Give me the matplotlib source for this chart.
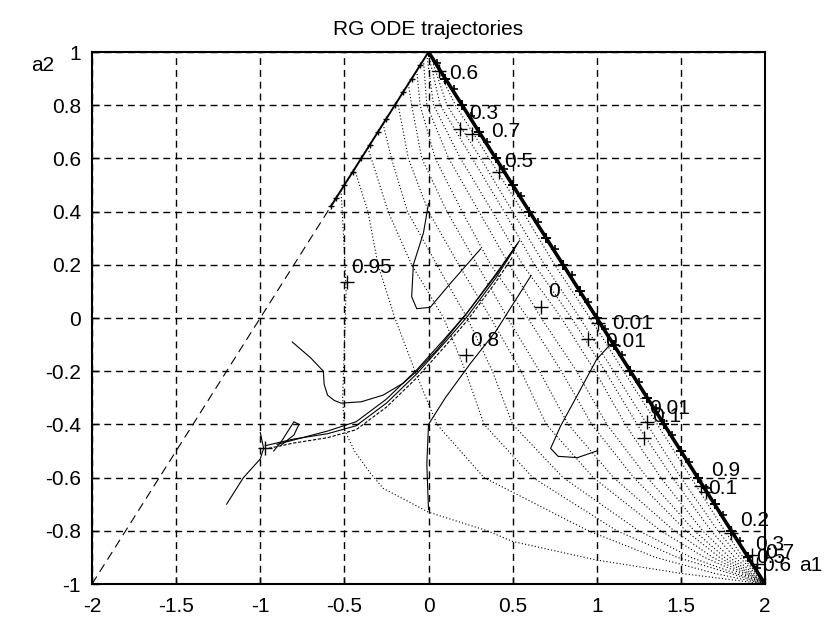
import matplotlib
matplotlib.use("Agg")
import matplotlib.pyplot as plt

plt.rcParams['font.family'] = ['Liberation Sans', 'DejaVu Sans']

# tick labels
x_ticks = [-2, -1.5, -1, -0.5, 0, 0.5, 1, 1.5, 2]
x_tick_labels = ['-2', '-1.5', '-1', '-0.5', '0', '0.5', '1', '1.5', '2']
y_ticks = [-1, -0.8, -0.6, -0.4, -0.2, 0, 0.2, 0.4, 0.6, 0.8, 1]
y_tick_labels = ['-1', '-0.8', '-0.6', '-0.4', '-0.2', '0', '0.2', '0.4', '0.6', '0.8', '1']

# triangle edges
left_dashed = [(-2.0, -1.0), (-0.58, 0.42)]
left_upper = [(-0.58, 0.42), (-0.55, 0.45), (-0.5, 0.5), (-0.45, 0.55), (-0.4, 0.6),
              (-0.35, 0.65), (-0.3, 0.7), (-0.25, 0.75), (-0.2, 0.8), (-0.15, 0.85),
              (-0.1, 0.9), (-0.05, 0.95), (0.0, 1.0)]
right_edge = [(0.0, 1.0), (0.1, 0.9), (0.2, 0.8), (0.3, 0.7), (0.4, 0.6), (0.5, 0.5),
              (0.6, 0.4), (0.7, 0.3), (0.8, 0.2), (0.9, 0.1), (1.0, 0.0), (1.1, -0.1),
              (1.2, -0.2), (1.3, -0.3), (1.4, -0.4), (1.5, -0.5), (1.6, -0.6), (1.7, -0.7),
              (1.8, -0.8), (1.9, -0.9), (2.0, -1.0)]
right_edge_b = [(0.05, 0.96), (0.15, 0.86), (0.25, 0.76), (0.35, 0.66), (0.45, 0.56),
                (0.55, 0.46), (0.65, 0.36), (0.75, 0.26), (0.85, 0.16), (0.95, 0.06),
                (1.05, -0.04), (1.15, -0.14), (1.25, -0.24), (1.35, -0.34), (1.45, -0.44),
                (1.55, -0.54), (1.65, -0.64), (1.75, -0.74), (1.85, -0.84), (1.95, -0.94)]

# dotted trajectories running into (2,-1)
fan_01 = [(-0.52, 0.48), (-0.50, 0.25), (-0.49, 0.1), (-0.50, -0.1), (-0.51, -0.3), (-0.50, -0.42),
          (-0.44, -0.50), (-0.35, -0.58), (-0.27, -0.64), (0.0, -0.73), (0.35, -0.8), (0.5, -0.84),
          (1.0, -0.91), (1.5, -0.96), (2.0, -1.0)]
fan_02 = [(-0.44, 0.56), (-0.36, 0.4), (-0.30, 0.2), (-0.20, 0.0), (-0.08, -0.2), (0.05, -0.4),
          (0.33, -0.6), (0.95, -0.8), (1.35, -0.9), (1.7, -0.96), (2.0, -1.0)]
fan_03 = [(-0.36, 0.64), (-0.34, 0.6), (-0.24, 0.4), (-0.1, 0.2), (0.09, 0.0), (0.22, -0.2),
          (0.33, -0.4), (0.62, -0.6), (1.12, -0.8), (1.48, -0.9), (2.0, -1.0)]
fan_04 = [(-0.27, 0.73), (-0.22, 0.6), (-0.125, 0.4), (0.05, 0.2), (0.23, 0.0), (0.38, -0.2),
          (0.5, -0.4), (0.8, -0.6), (1.25, -0.8), (1.56, -0.9), (2.0, -1.0)]
fan_05 = [(-0.19, 0.81), (-0.18, 0.8), (-0.12, 0.6), (0.0, 0.4), (0.18, 0.2), (0.37, 0.0),
          (0.55, -0.2), (0.7, -0.4), (0.98, -0.6), (1.38, -0.8), (1.64, -0.9), (2.0, -1.0)]
fan_06 = [(-0.12, 0.88), (-0.1, 0.8), (-0.04, 0.6), (0.11, 0.4), (0.29, 0.2), (0.47, 0.0),
          (0.66, -0.2), (0.83, -0.4), (1.1, -0.6), (1.46, -0.8), (1.69, -0.9), (2.0, -1.0)]
fan_07 = [(-0.07, 0.93), (-0.05, 0.8), (0.04, 0.6), (0.2, 0.4), (0.37, 0.2), (0.59, 0.0),
          (0.79, -0.2), (0.97, -0.4), (1.22, -0.6), (1.53, -0.8), (1.73, -0.9), (2.0, -1.0)]
fan_08 = [(-0.03, 0.97), (-0.01, 0.8), (0.12, 0.6), (0.3, 0.4), (0.48, 0.2), (0.67, 0.0),
          (0.88, -0.2), (1.06, -0.4), (1.3, -0.6), (1.58, -0.8), (1.76, -0.9), (2.0, -1.0)]
fan_09 = [(-0.01, 0.99), (0.03, 0.8), (0.19, 0.6), (0.38, 0.4), (0.56, 0.2), (0.79, 0.0),
          (0.99, -0.2), (1.17, -0.4), (1.38, -0.6), (1.63, -0.8), (1.79, -0.9), (2.0, -1.0)]
fan_10 = [(0.0, 0.99), (0.07, 0.8), (0.26, 0.6), (0.45, 0.4), (0.63, 0.2), (0.85, 0.0),
          (1.05, -0.2), (1.24, -0.4), (1.45, -0.6), (1.68, -0.8), (1.82, -0.9), (2.0, -1.0)]
fan_11 = [(0.01, 0.99), (0.11, 0.8), (0.31, 0.6), (0.5, 0.4), (0.69, 0.2), (0.9, 0.0),
          (1.1, -0.2), (1.3, -0.4), (1.5, -0.6), (1.72, -0.8), (1.85, -0.9), (2.0, -1.0)]
fan_12 = [(0.02, 0.98), (0.16, 0.8), (0.36, 0.6), (0.56, 0.4), (0.75, 0.2), (0.96, 0.0),
          (1.16, -0.2), (1.36, -0.4), (1.56, -0.6), (1.76, -0.8), (1.87, -0.9), (2.0, -1.0)]
fan_curves = [fan_01, fan_02, fan_03, fan_04, fan_05, fan_06,
              fan_07, fan_08, fan_09, fan_10, fan_11, fan_12]

# solid trajectories
arc_upper = [(-0.81, -0.09), (-0.7, -0.15), (-0.625, -0.2), (-0.62, -0.25), (-0.6, -0.29),
             (-0.56, -0.31), (-0.52, -0.32), (-0.4, -0.315), (-0.27, -0.29), (-0.15, -0.245),
             (-0.07, -0.2), (0.05, -0.12), (0.23, 0.02), (0.4, 0.16), (0.53, 0.28)]
bundle_a = [(-0.97, -0.48), (-0.8, -0.455), (-0.6, -0.435), (-0.43, -0.405), (-0.25, -0.32),
            (-0.07, -0.21), (0.1, -0.09), (0.23, 0.005), (0.4, 0.15), (0.52, 0.27)]
bundle_b = [(-0.9, -0.475), (-0.75, -0.45), (-0.6, -0.425), (-0.43, -0.39), (-0.25, -0.305),
            (-0.07, -0.195), (0.1, -0.075), (0.23, 0.02), (0.4, 0.165), (0.54, 0.29)]
bundle_c = [(-0.95, -0.49), (-0.8, -0.47), (-0.6, -0.45), (-0.43, -0.42), (-0.25, -0.335),
            (-0.07, -0.225), (0.1, -0.105), (0.23, -0.01), (0.4, 0.135), (0.5, 0.23)]
hook = [(-0.92, -0.5), (-0.87, -0.46), (-0.83, -0.42), (-0.8, -0.39), (-0.77, -0.4),
        (-0.8, -0.44), (-0.88, -0.48)]
lower_left = [(-1.2, -0.7), (-1.1, -0.6), (-1.0, -0.53), (-0.98, -0.49), (-1.0, -0.43)]
vertical_s = [(0.0, -0.72), (-0.01, -0.55), (0.0, -0.4), (0.1, -0.3), (0.25, -0.17),
              (0.4, -0.05), (0.52, 0.07), (0.61, 0.16)]
loop_mid = [(0.0, 0.43), (-0.03, 0.32), (-0.09, 0.2), (-0.1, 0.08), (-0.07, 0.035),
            (0.01, 0.04), (0.13, 0.13), (0.31, 0.26)]
loop_right = [(1.08, -0.1), (1.0, -0.155), (0.885, -0.29), (0.786, -0.405), (0.726, -0.49),
              (0.77, -0.52), (0.885, -0.525), (1.0, -0.5)]
solid_curves = [arc_upper, bundle_a, bundle_b, hook, lower_left, vertical_s, loop_mid, loop_right]

# start markers and their labels
plus_x = [0.06, 0.19, 0.26, 0.42, -0.484, 0.22, 0.667, 1.01, 0.95, 1.3, 1.28, 1.62, 1.65, 1.8, 1.92, 1.95, -0.97]
plus_y = [0.93, 0.71, 0.69, 0.55, 0.134, -0.14, 0.04, -0.02, -0.08, -0.39, -0.45, -0.63, -0.655, -0.81, -0.89, -0.925, -0.49]
label_text = ['0.6', '0.3', '0.7', '0.5', '0.95', '0.8', '0', '0.01', '0.01', '0.01', '0.1',
              '0.9', '0.1', '0.2', '0.3', '0.5', '0.6', '0.7']
label_x = [0.12, 0.24, 0.37, 0.45, -0.46, 0.25, 0.71, 1.09, 1.05, 1.31, 1.33,
           1.68, 1.66, 1.85, 1.94, 1.95, 1.98, 2.0]
label_y = [0.92, 0.77, 0.70, 0.59, 0.19, -0.085, 0.10, -0.02, -0.09, -0.34, -0.37,
           -0.575, -0.64, -0.76, -0.85, -0.9, -0.93, -0.88]

fig = plt.figure(figsize=(8.26, 6.22), dpi=100)
ax = fig.add_axes([92 / 826, 38 / 622, 673 / 826, 532 / 622])

ax.plot(*zip(*left_dashed), color='k', lw=0.8, linestyle=(0, (8, 5)))
ax.plot(*zip(*left_upper), color='k', lw=1.4, marker='+', ms=5, mew=1.0)
ax.plot(*zip(*right_edge), color='k', lw=2.6, marker='+', ms=7, mew=1.4)
ax.plot(*zip(*right_edge_b), color='k', lw=0, marker='+', ms=6, mew=1.2)

for c in fan_curves:
    ax.plot(*zip(*c), color='k', lw=0.8, linestyle=(0, (1, 2)))

for c in solid_curves:
    ax.plot(*zip(*c), color='k', lw=0.8)
ax.plot(*zip(*bundle_c), color='k', lw=0.8, linestyle=(0, (3, 1.5)))

ax.plot(plus_x, plus_y, linestyle='none', marker='+', color='k', ms=10, mew=1.0)
for t, x, y in zip(label_text, label_x, label_y):
    ax.text(x, y, t, fontsize=15, ha='left', va='center', color='k')

ax.text(2.2, -0.93, 'a1', fontsize=15, ha='left', va='center')
ax.text(-2.36, 0.95, 'a2', fontsize=15, ha='left', va='center')

ax.set_xlim(-2, 2)
ax.set_ylim(-1, 1)
ax.set_xticks(x_ticks)
ax.set_xticklabels(x_tick_labels)
ax.set_yticks(y_ticks)
ax.set_yticklabels(y_tick_labels)
ax.tick_params(direction='in', length=5, labelsize=15, width=1)
ax.tick_params(axis='x', pad=9)
ax.tick_params(axis='y', pad=8)
ax.grid(True, color='k', lw=1.0, linestyle=(0, (5, 3.5)))
for s in ax.spines.values():
    s.set_linewidth(1.5)
ax.set_title('RG ODE trajectories', fontsize=15, pad=12)

fig.savefig('out.png', dpi=100)
